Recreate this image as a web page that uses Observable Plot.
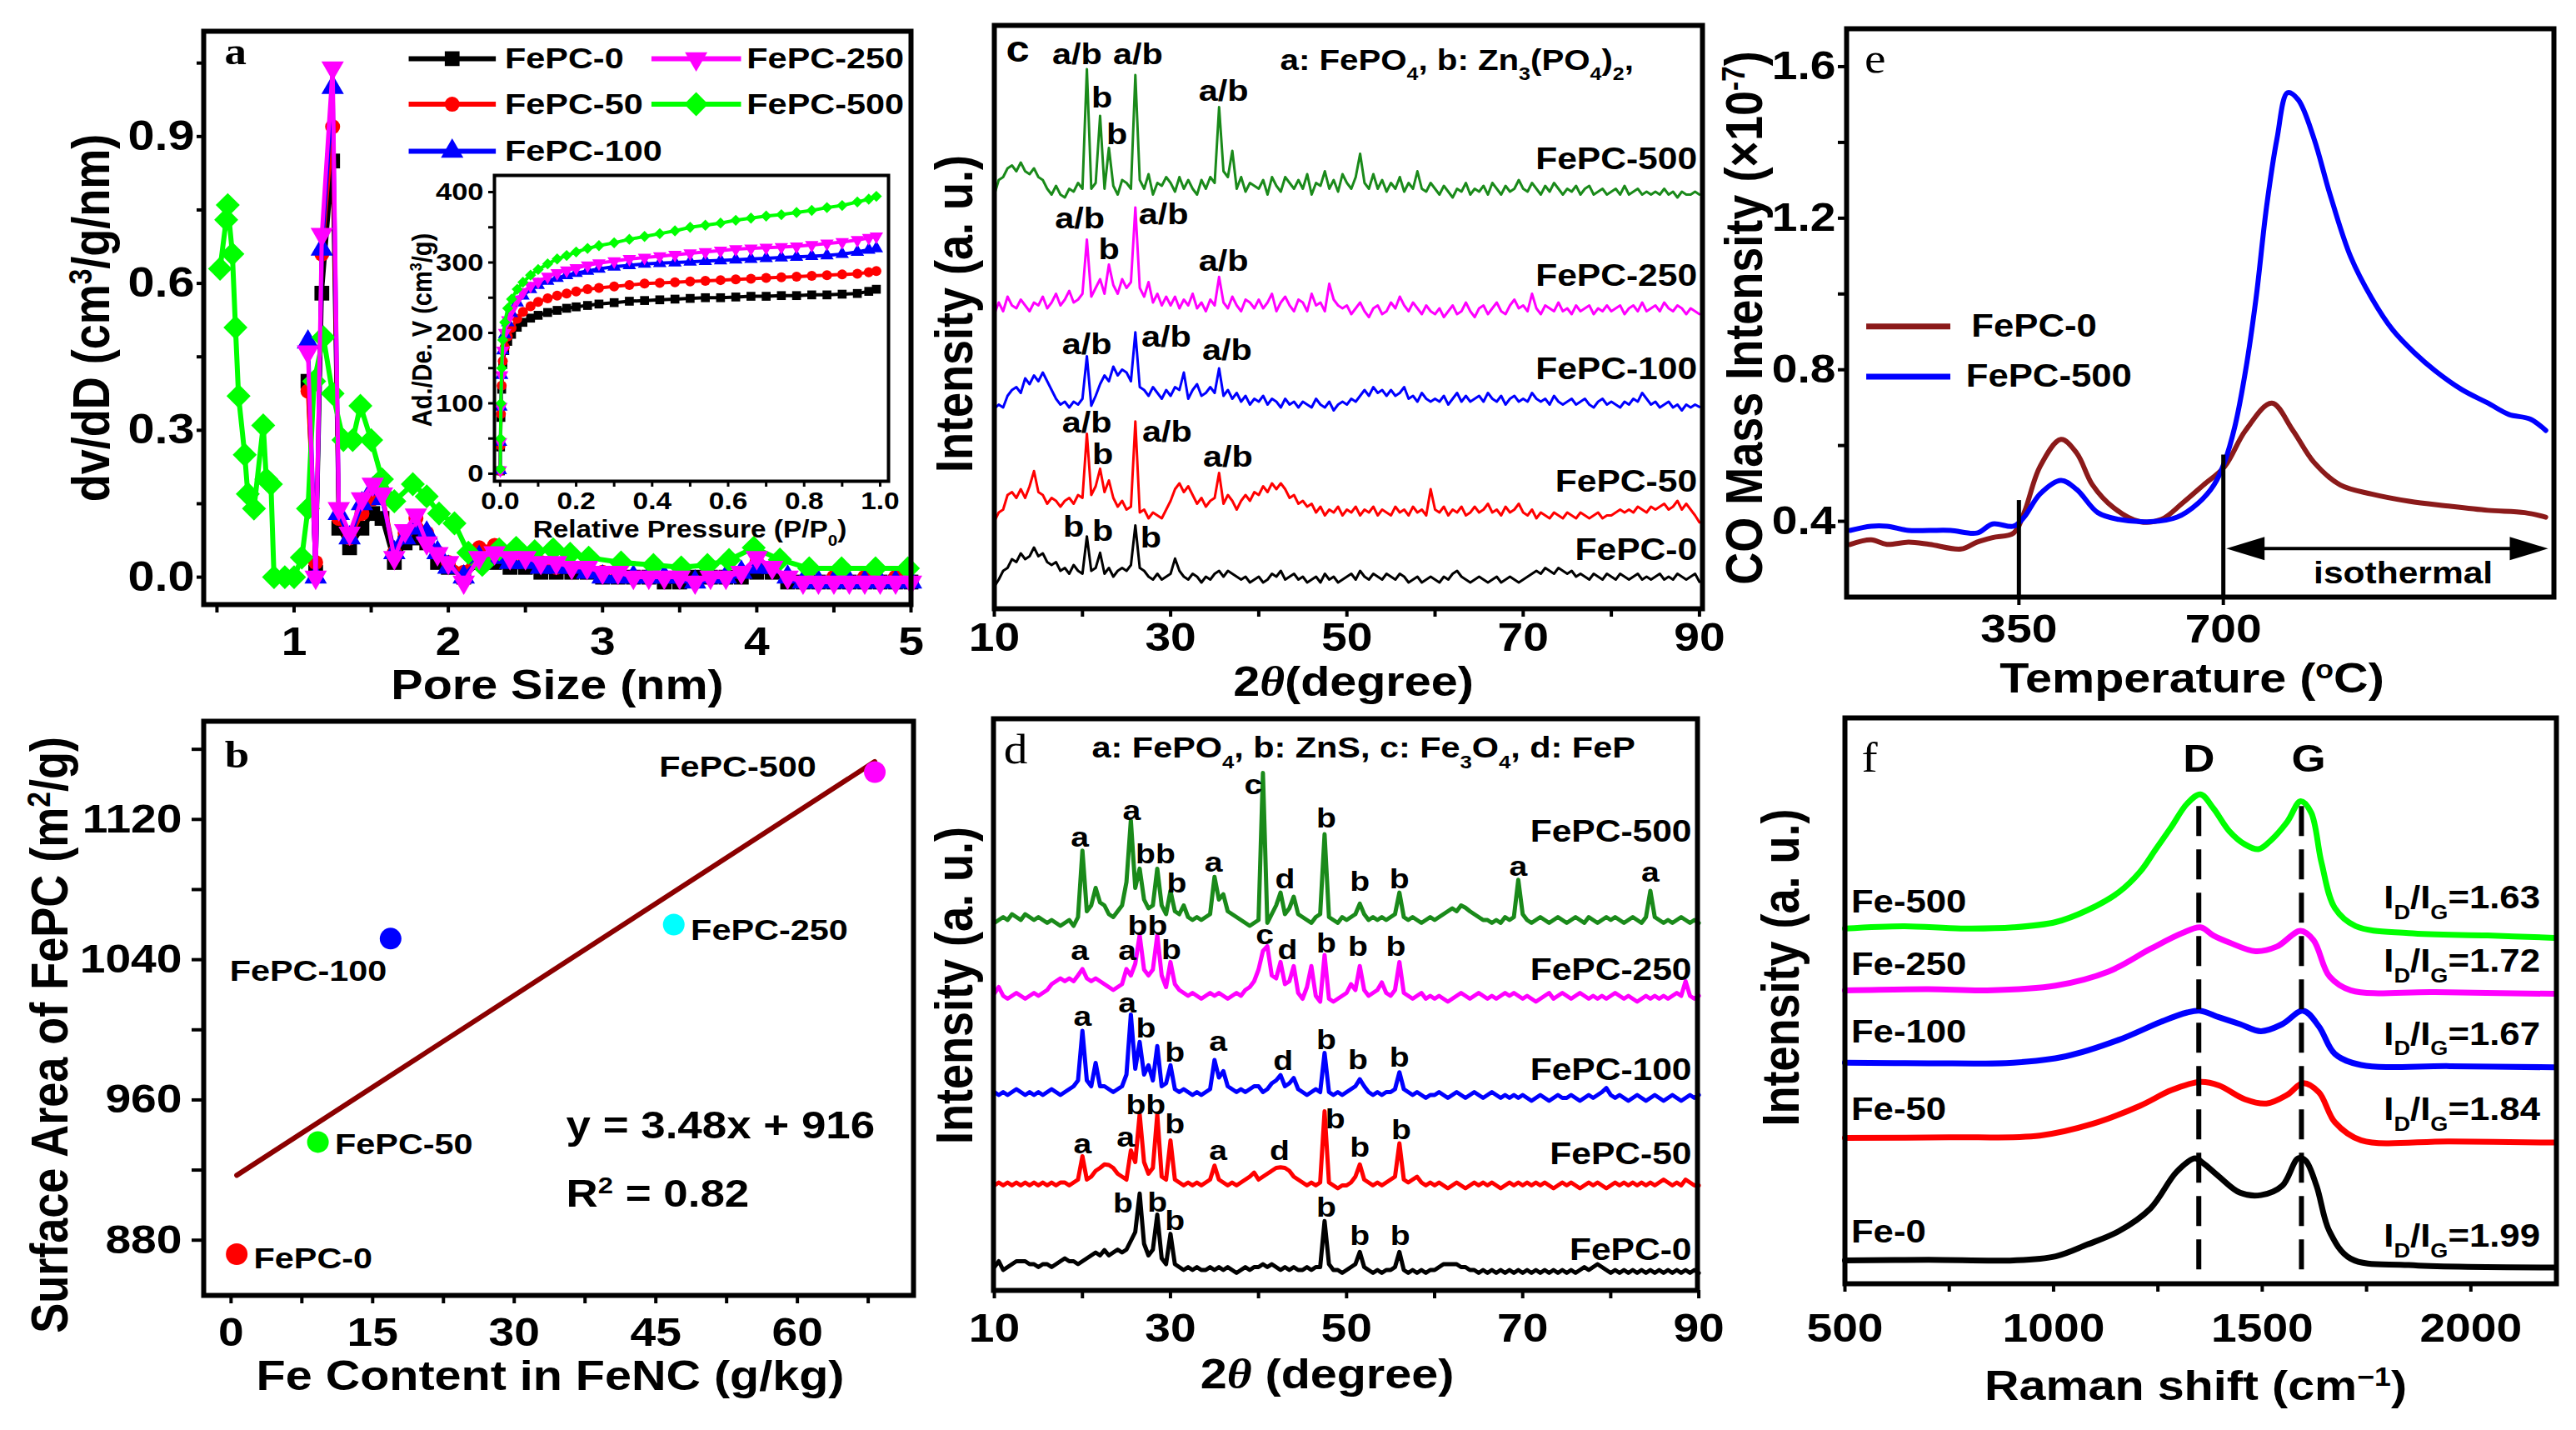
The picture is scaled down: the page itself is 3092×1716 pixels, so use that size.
<!DOCTYPE html>
<html>
<head>
<meta charset="utf-8">
<script src="https://cdn.jsdelivr.net/npm/d3@7"></script>
<script src="https://cdn.jsdelivr.net/npm/@observablehq/plot@0.6"></script>
<style>
  html, body { margin:0; padding:0; background:#fff; }
  #fig { position:relative; width:3092px; height:1716px; background:#fff; overflow:hidden; }
  #fig > svg { position:absolute; overflow:visible; }
</style>
</head>
<body>
<div id="fig"></div>
<script>
// ======================= DATA =======================
// --- Panel a: pore size distribution (dv/dD vs pore size, nm)
const poreX = [1.09,1.14,1.18,1.25,1.29,1.36,1.44,1.51,1.57,1.65,1.72,1.79,1.86,1.93,2.0,2.1,2.2,2.3,2.4,2.5,2.6,2.7,2.8,2.9,3.0,3.1,3.2,3.3,3.4,3.5,3.6,3.7,3.8,3.9,4.0,4.1,4.2,4.3,4.4,4.5,4.6,4.7,4.8,4.9,5.0];
const poreFePC0   = [0.40,0.01,0.58,0.85,0.10,0.06,0.10,0.13,0.12,0.03,0.07,0.08,0.07,0.03,0.02,0.00,0.03,0.03,0.02,0.02,0.01,0.01,0.01,0.01,0.00,0.00,0.00,0.00,-0.01,-0.01,0.00,0.00,0.00,0.00,0.01,0.01,-0.01,-0.01,-0.01,-0.01,-0.01,-0.01,-0.01,-0.01,-0.01];
const poreFePC50  = [0.38,0.03,0.66,0.92,0.12,0.08,0.13,0.16,0.17,0.05,0.09,0.12,0.09,0.05,0.03,0.01,0.06,0.065,0.04,0.04,0.03,0.02,0.02,0.02,0.01,0.01,0,0,0,0,-0.01,0,0,0.01,0.03,0.02,0,-0.01,-0.01,0,-0.01,0,-0.01,0,-0.01];
const poreFePC100 = [0.48,0.00,0.67,1.00,0.13,0.08,0.15,0.18,0.16,0.05,0.08,0.10,0.09,0.05,0.02,0.00,0.04,0.04,0.03,0.03,0.02,0.02,0.02,0.01,0,0,0,0,0,0,-0.01,0,0,0.01,0.02,0.02,0,-0.01,-0.01,-0.01,-0.01,-0.01,-0.01,-0.01,-0.01];
const poreFePC250 = [0.46,0.00,0.70,1.04,0.14,0.09,0.16,0.19,0.17,0.04,0.095,0.127,0.07,0.048,0.03,-0.01,0.04,0.05,0.04,0.04,0.03,0.03,0.02,0.02,0.01,0.01,0,0,0,0,-0.01,0,0,0.01,0.04,0.02,0,-0.01,-0.01,-0.01,-0.01,-0.01,-0.01,-0.01,-0.01];
const poreX500    = [0.52,0.56,0.57,0.60,0.62,0.64,0.68,0.70,0.74,0.80,0.82,0.85,0.87,0.94,1.00,1.05,1.09,1.13,1.19,1.25,1.32,1.38,1.43,1.50,1.57,1.65,1.77,1.86,1.94,2.04,2.13,2.22,2.33,2.44,2.56,2.68,2.79,2.91,3.12,3.33,3.51,3.68,3.82,3.98,4.15,4.34,4.55,4.77,4.98];
const poreFePC500 = [0.63,0.73,0.76,0.66,0.51,0.37,0.25,0.17,0.14,0.31,0.20,0.19,0.00,0.00,0.00,0.04,0.14,0.40,0.49,0.375,0.28,0.28,0.35,0.28,0.20,0.155,0.19,0.165,0.13,0.11,0.05,0.025,0.057,0.06,0.053,0.057,0.048,0.04,0.03,0.025,0.02,0.025,0.035,0.06,0.036,0.018,0.018,0.018,0.018];

// --- Panel a inset: N2 isotherms
const isoP = [0.0005,0.001,0.002,0.004,0.007,0.012,0.02,0.03,0.045,0.06,0.08,0.1,0.125,0.15,0.175,0.2,0.23,0.26,0.3,0.34,0.38,0.42,0.46,0.5,0.54,0.58,0.62,0.66,0.7,0.74,0.78,0.82,0.86,0.9,0.94,0.97,0.99];
const isoFePC500 = [7,50,100,150,190,215,235,248,262,272,282,290,298,305,310,315,320,324,328,333,337,341,345,350,353,356,360,363,366,368,371,374,378,381,386,390,394];
const isoFePC250 = [5,45,95,140,175,200,218,232,247,258,267,273,280,285,289,292,296,299,302,305,307,309,311,313,315,317,319,320,321,322,323,325,327,329,332,335,337];
const isoFePC100 = [5,45,95,140,175,198,215,228,243,253,262,268,274,278,282,285,288,291,294,296,298,299,300,301,302,303,304,305,306,307,308,309,310,312,315,318,320];
const isoFePC50  = [4,40,85,125,160,180,195,207,220,230,238,244,249,253,256,259,262,264,266,268,270,271,272,273,274,275,276,277,278,279,280,281,282,283,284,286,288];
const isoFePC0   = [4,38,80,120,155,175,188,198,208,215,221,225,229,232,235,237,239,241,243,245,246,247,248,249,250,250,251,252,252,253,253,254,254,255,256,259,262];

// --- Panel b: surface area vs Fe content
const bNames = ["FePC-0","FePC-50","FePC-100","FePC-250","FePC-500"];
const bFe    = [0.6, 9.2, 16.9, 46.9, 68.2];
const bArea  = [872, 936, 1052, 1060, 1147];
const bColor = ["#ff0000","#00ff00","#0000ff","#00ffff","#ff00ff"];
const bFitX  = [0.6, 68.2];
const bFitY  = [917, 1153];

// --- Panel c & d: XRD patterns, sampled every 0.5 degree from 10 to 90
const twoTheta = d3.range(10, 90.25, 0.5);
const xrdC500 = [71,73.5,74,75.5,76,75,76.5,75,74.5,75.5, 74,73.5,72,71,72.5,71,70.5,72,71.5,73, 72,92.5,72,73,84.5,72,79,72.5,71,73.5, 73,72,91.5,73.5,72,74.5,71,73,72.5,74, 73,71.5,74,72,73.5,72,71,73.5,72,74, 73,86,75,74,78.5,72,74,71.5,73,72.5, 72,73.5,71,74,72.5,71.5,74,73,72,73.5, 72,74.5,71,73,72.5,75,72,73.5,71.5,74.5, 73,72,74,78,73,72,74.5,72,73.5,71.5, 73,72,74,71.5,73,72,75,72,71.5,73, 72,71,72.5,71.5,70.5,72,71.5,73,71,72, 71.5,72.5,71,73,72,71,72.5,71.5,72,73.5, 72,71.5,73,72,71,72.5,71.5,73,72,71, 72,71.5,72.5,71,72,72.5,71,71.5,72,71, 71.5,72,71,72.5,71,71.5,72,71,71.5,71, 71.5,71,72,71,71.5,70.5,71.5,71,71,71.5, 71];
const xrdC250 = [50.5,52.5,51,53.5,52,51.5,53,52,51,52.5, 52,53.5,51.5,52.5,54,52,53,54.5,52.5,53, 54,63.3,53.5,55,56.5,54,59,55.5,54,56.5, 55,56,68.8,55,53.5,56,52.5,54,52,53.5, 52,53.5,51.5,53,52,54,51.5,52.5,51,53, 52,56.9,52.5,51.5,53.5,52,51,53,52.5,51.5, 53,51.5,52.5,54,51,52.5,53.5,52,51,53, 52.5,51,54,52,52.5,51,55.7,53,52,51.5, 52,50.5,51.5,52.5,51,50,51.5,52,50.5,51, 52.5,51.5,53.5,52,51,52.5,51.5,50.5,52,51, 50.5,51.5,50,51,52,50.5,51,52.5,51,50, 51.5,52,50.5,51.5,52.5,51,50.5,52,53,51.5, 52,51,54,51.5,50.5,52,51.5,51,52.5,51, 51.5,50.5,52,51,51.5,52,50.5,51.5,51,52, 51,51.5,52,50.5,51.5,52,51,52.5,51,51.5, 52,51,52.5,51.5,51,52,51.5,50.5,51.5,51, 50.5];
const xrdC100 = [34.3,35,34.5,36.5,37.5,38,37,39.5,38.5,40, 39,40.5,39,37.5,36,35,35.5,34.5,35.5,35, 36,43.3,34.8,36.5,38.5,40,39,41.5,40,41, 40.5,39,47.4,38,37.5,36.5,38,37,36,37.5, 36.5,38,37.5,40.5,36,37.5,38.5,36.5,37,38, 37,41.2,36.5,37.5,36,37,35.5,36.5,35,36, 35.5,36.5,35,36,35.5,34.5,36,35,35.5,34.5, 35.5,35,34.5,36,35,34.5,35.5,34,35,35.5, 35,36,35.5,36.5,37.5,36.5,38,37,37.5,36.5, 37.5,36.5,37,38,36,36.5,35.5,37,36,35.5, 36,35.5,36.5,35,36,37,35.5,36.5,35.5,36, 36.5,35.5,37,36,35.5,36.5,35,36,36.5,35.5, 36,35.5,37,36,35.5,36,35,36.5,35.5,35, 35.5,36,35,35.5,36,35,34.5,35.5,36,35, 35.5,35,34.5,35.5,35,36,35.5,37,36,35, 35.5,34.5,35,35.5,34.5,35,34,35,34.5,35, 34.6];
const xrdC50 = [15,16.5,17,19.5,20,19,20.5,19,21,23.6, 20,19.5,18,19,18.5,17.5,18.5,19,18,19.5, 19,30,19.5,21,24,20,22,19,17.5,18.5, 17,17.5,32.1,16.5,17,15.5,16.5,16,15.5,17, 18.5,20.5,21.5,20,21,19.5,18,19,17.5,18.5, 19,23.3,18,19.5,18.5,17,18.5,19.5,18.5,20, 19.5,21,20,21.5,20.5,21.5,20.5,19,19.5,18, 18.5,17.5,18,16.5,17.5,16,17,16.5,17.5,16, 17,16.5,17.5,16,17,16.5,17.5,16,17,16.5, 16,17.5,16.5,17,16,17.5,16.5,17,16,20.5, 17,16.5,17.5,16,17,16.5,17.5,16,16.5,17.5, 16.5,17,18,16.5,17,16,17.5,16.5,17,18, 16.5,16,17,15.5,16.5,16,15.5,16.5,16,15.5, 16.5,16,15.5,16.5,16,15.5,16,16.5,15.5,16, 16,16.5,17,16.5,17,16.5,17.5,17,16.5,17.5, 17,17.5,18,17,17.5,18.5,17,18,17,16, 14.8];
const xrdC0 = [3.8,5,6.5,7,8.5,8,9.5,8.5,9,10.5, 9,9.5,8,7.5,8,6.5,7,6,7.5,6.5, 6,12.4,6.5,7,9.6,6,7,5.5,6.5,7, 6.5,7.5,14.3,7,6.5,5.5,5,6,5,5.5, 6,8.6,6.5,5.5,5,6,5.5,4.5,5.5,5, 6,6.5,5.5,6.5,6,5.5,5,5.5,4.5,5, 5.5,4.5,5,6,5.5,6.5,5,5.5,6,5, 5.5,4.5,5,5.5,4.5,6,5,5.5,4.5,5, 5.5,6,5,6.5,5.5,5,6,5.5,5,6, 5.5,5,6,5.5,4.5,5,5.5,4.5,5,5.5, 5,4.5,5.5,5,6,6.5,5.5,5,4.5,5, 5.5,5,4.5,5,5.5,4.5,5,5.5,5,4.5, 5,5.5,6,6.5,6,7,6.5,6,7,6.5, 6,6.5,5.5,6,5.5,5,6,5.5,5,6, 5.5,5,6,5.5,5,5.5,6,5,5.5,5, 5.5,6,5,5.5,5,6,5.5,5,5.5,6, 4.6];

const xrdD500 = [63,63.5,64,63.5,64.5,64,63.5,64.5,64,63.5, 64,63.5,63,63.5,63,62.5,63,63.5,62.5,64, 75.4,65,66,69,66.5,66,64.5,64,65,66, 70,80.6,69,72.3,67,65.5,66,72.3,66,64.5, 68.5,65,64.5,66,64,63.5,64,63.5,64,64.5, 70.9,67,67.9,65,64.5,64,63.5,63,62.5,63, 63.5,88.7,63,64.5,66,68.2,64.5,65.5,67.5,64.5, 64,63.5,63,64,64.5,78.2,64,63.5,63,64, 63.5,64,64.5,66.3,64.5,63.5,64,63.5,64,63.5, 64,64.5,68.2,64,63.5,64,63.5,63,63.5,64, 63.5,64,64.5,65,65.5,65,66,65.6,65,64.5, 64,63.5,63.5,63,63.5,63,64,63.5,64,70.4, 64.5,63.5,63,63.5,64,63.5,63,63.5,64,63.5, 63,63.5,64,63.5,63,64,63.5,63,63.5,64, 63.5,64,63.5,63,63.5,64,63.5,63,64,68.5, 64,63.5,63,63.5,63,63.5,64,63.5,63,63.5, 63];
const xrdD250 = [50.9,52,50.5,50,50.5,51,50.5,50,50.5,51, 50.5,51,51.5,52.5,53,53.5,53,53.5,53,54, 55.1,53.5,53,53.5,53,52.5,52,51.5,52,52.5, 55.1,54,56,60.9,55,54,55,60.9,54,52, 56.3,52.5,51.5,51,50.5,51,50.5,50,50.5,51, 50.5,51,50.5,50,50.5,51,50.5,51.5,52,53, 55,58.2,59,54,53.5,56.3,52.5,53,55.6,51, 50,52,55.6,50.5,49.5,57.5,50,49.5,50,50.5, 51,52.5,51.5,55.6,51.5,50.5,51,51.5,52.8,51, 50.5,51.5,56.3,51,50.5,50,50.5,51,50,50.5, 50,50.5,50,49.5,50,50.5,51,50.5,50,50.5, 51,50.5,50,50.5,50,50.5,51,50.5,51,50.5, 50,50.5,50,49.5,50,50.5,51,50,50.5,51, 50.5,50,50.5,51,50.5,50,50.5,50,50.5,50, 50.5,51,50.5,50,50.5,50,49.5,50,50.5,50, 50.5,50,50.5,50,50.5,51,50.5,53,50.5,50, 50.5];
const xrdD100 = [34,33.5,34,33.5,34,34.5,34,33.5,34,33.5, 34,33.5,34,34.5,34,33.5,34,34.5,35,36, 44.5,36,35,39,35,35,34.5,34,34.5,35, 37,47.3,38,42.6,37,38.6,36,41.9,35,35.5, 38.6,34.5,34,34.5,34,33.5,34,33.5,34,34.5, 39.5,36.5,37.6,35,34.5,34,34.5,34,34.5,35, 35,34,34.5,35.5,36,36.9,35,35.5,36.4,34.5, 34,33.5,34,34.5,34,40.7,34,33.5,34,33.5, 34,34.5,35,36.2,35,34,33.5,34,33.5,34, 34,34.5,37.4,34.5,34,33.5,34,33.5,33,33.5, 33.5,34,33.5,33,33.5,34,33.5,33,33.5,34, 33.5,33,33.5,34,33.5,33,33.5,33,33.5,33, 33.5,33,32.5,33,33.5,33,32.5,33,33.5,33, 33,33.5,33,32.5,33,33.5,33,33.5,34,34.7, 33.5,33,33.5,33,32.5,33,33.5,33,32.5,33, 33.5,33,32.5,33,33.5,33,32.5,33,33.5,33, 33.5];
const xrdD50 = [18,18.5,18,18.5,18,18.5,18,18.5,18,18.5, 18,18.5,18,18.5,18,18.5,18.5,18,18.5,19, 23,19,19.5,20.5,21,21.6,21.5,21,20,19.5, 19,24,22,30.2,22,20,21,30.2,19.5,19, 25.7,19,18.5,18,18.5,18,18.5,18,18.5,19, 21.4,19,18.5,18,18.5,18,18.5,19,19.5,20.2, 19,19.5,20,20.5,21,21.1,21,20.5,19.5,19, 18.5,18,18.5,18,18.5,30.7,18.5,18,17.5,18, 18,18.5,19.5,21.6,19,18.5,18,18.5,18,18.5, 19,19.5,25.2,19,18.5,19,19.5,18.5,18,18.5, 18,18.5,18,17.5,18,18.5,18,17.5,18,18.5, 18,18.5,18,18.5,18,17.5,18,18.5,18,18.5, 18,18.5,18,18.5,18,18.5,18,17.5,18,18.5, 18,18.5,18,17.5,18,18.5,18,18.5,18,17.5, 18,18.5,18,18.5,18,18.5,18,18.5,18,18.5, 18,18.5,19,18.5,18,18.5,18,19,18.5,18, 18];
const xrdD0 = [4,5,3.5,4,4.5,5,5,5,4.5,4.5, 4,4.5,4.5,4,4.5,5,5.5,5,5,4.5, 5,5.5,6,6.5,6,6.9,6,6.5,7,6.5, 7,8.5,10,16.6,8,6,7,13,5.5,4.5, 9.7,4.5,4,3.5,4,3.5,4,3.5,3.5,4, 3.5,4,3.5,4,3.5,3,3.5,4,3.5,4, 4,4.5,4,4.5,4,3.5,4,3.5,4,3.5, 3.5,4,3.5,4,4,11.9,4.5,3.5,3.5,3, 3.5,4,4.5,6.6,4,3.5,3,3.5,3,3.5, 3.5,4,6.6,3.5,3,3.5,3,3.5,3,3.5, 3.5,4,4.5,4.5,4.5,4.5,4,4,3.5,3.5, 3,3.5,3,3.5,3,3.5,3,3.5,3,3.5, 3,3.5,3,3.5,3,3.5,3,3.5,3,3.5, 3,3.5,3,3.5,4,3.5,4,4.5,4,3.5, 3,3.5,3,3.5,3,3.5,3,3.5,3,3.5, 3,3.5,3,3.5,3,3.5,3,3.5,3,3.5, 3];

// peak labels: [text, 2theta, intensity]
const peaksC = [["a/b",19.4,93.3],["a/b",26.3,93.3],["b",22.2,86.0],["b",23.9,79.6],["a/b",36.0,87.1],
  ["a/b",19.7,65.2],["a/b",29.2,66.0],["b",23.0,60.0],["a/b",36.0,57.9],
  ["a/b",20.5,43.6],["a/b",29.5,45.0],["a/b",36.4,42.6],
  ["a/b",20.5,30.2],["b",22.3,24.8],["a/b",29.6,28.6],["a/b",36.5,24.3],
  ["b",19.0,12.4],["b",22.3,11.7],["b",27.75,10.5]];
const peaksD = [["a",19.7,76.1],["a",25.6,80.6],["bb",28.3,73.2],["b",30.7,68.2],["a",34.9,71.8],["c",39.4,85.1],["d",43.0,69.0],["b",47.7,79.4],["b",51.5,68.5],["b",56.0,69.0],["a",69.5,71.1],["a",84.5,70.1],
  ["a",19.7,56.6],["a",25.1,56.6],["bb",27.4,60.9],["b",30.1,56.8],["c",40.7,59.4],["d",43.3,56.8],["b",47.7,58.0],["b",51.3,57.3],["b",55.6,57.3],
  ["a",20.0,45.4],["a",25.1,47.6],["b",27.2,43.3],["b",30.5,39.2],["a",35.4,41.1],["d",42.8,37.8],["b",47.7,41.4],["b",51.3,38.0],["b",56.0,38.3],
  ["a",20.0,23.5],["a",24.9,24.7],["bb",27.2,30.2],["b",30.5,26.9],["a",35.4,22.3],["d",42.4,22.3],["b",48.7,27.8],["b",51.5,23.0],["b",56.2,25.9],
  ["b",24.6,13.3],["b",28.5,13.5],["b",30.5,10.4],["b",47.7,12.6],["b",51.5,7.8],["b",56.1,7.8]];
const sampleNames = ["FePC-500","FePC-250","FePC-100","FePC-50","FePC-0"];
const nameYC = [75.3, 55.3, 39.3, 20.1, 8.3];
const nameYD = [77.0, 53.2, 36.1, 21.6, 5.2];

// --- Panel e: CO mass signal vs temperature
const tpdT500 = [61,97,124,161,197,233,278,305,341,359,386,422,449,485,521,576,621,657,684,702,720,738,756,774,792,810,828,855,882,918,954,990,1027,1063,1108,1153,1189,1225,1252];
const tpdFePC500 = [0.376,0.387,0.387,0.376,0.376,0.376,0.369,0.393,0.387,0.411,0.472,0.508,0.484,0.423,0.405,0.399,0.411,0.448,0.496,0.556,0.652,0.797,0.989,1.23,1.411,1.531,1.513,1.411,1.266,1.098,0.989,0.905,0.845,0.797,0.748,0.712,0.682,0.670,0.640];
const tpdT0 = [61,97,124,161,197,251,278,305,341,359,386,422,449,476,512,557,594,630,666,702,738,783,819,855,900,954,1018,1081,1153,1216,1252];
const tpdFePC0 = [0.339,0.351,0.339,0.345,0.339,0.327,0.345,0.357,0.369,0.423,0.544,0.616,0.580,0.496,0.436,0.399,0.405,0.448,0.496,0.544,0.640,0.712,0.640,0.556,0.496,0.472,0.453,0.441,0.429,0.423,0.411];
const tpdMarkers = [350, 700];
const tpdMarkerTop = [0.455, 0.575];

// --- Panel f: Raman spectra
const ramX500 = [500,640,778,904,1005,1080,1156,1207,1245,1283,1320,1352,1383,1421,1459,1491,1522,1560,1592,1617,1642,1674,1724,1851,2040,2200];
const ramFe500 = [60.9,61.3,60.9,61.1,62.0,64.0,67.1,70.6,74.5,78.4,82.3,83.9,81.5,77.6,75.3,74.5,76.1,79.2,82.7,80.8,72.2,64.4,61.3,60.1,59.7,59.3];
const ramX250 = [500,700,841,1005,1131,1232,1308,1352,1383,1421,1484,1535,1592,1623,1661,1712,1914,2200];
const ramFe250 = [50.3,50.5,50.3,51.1,53.5,57.4,60.1,61.1,59.7,58.5,57.0,57.8,60.5,58.9,52.7,50.3,50.0,49.7];
const ramX100 = [500,700,904,1030,1156,1257,1320,1352,1396,1447,1497,1548,1598,1636,1674,1737,1950,2200];
const ramFe100 = [37.9,37.8,37.9,39.0,41.8,44.9,46.5,46.8,45.7,44.5,43.3,44.5,46.8,44.1,39.4,37.5,37.3,37.1];
const ramX50 = [500,750,967,1093,1207,1283,1352,1396,1459,1510,1560,1598,1636,1674,1737,1950,2200];
const ramFe50 = [25.0,25.1,25.4,27.4,30.5,33.2,34.6,34.0,31.6,30.9,32.4,34.4,32.8,27.7,24.6,24.4,24.2];
const ramX0 = [500,700,904,1005,1080,1156,1232,1295,1339,1358,1396,1447,1497,1548,1586,1604,1630,1661,1712,1851,2200];
const ramFe0 = [4.0,4.1,4.0,4.7,6.7,9.0,12.9,19.2,21.5,20.7,18.4,15.6,15.2,16.8,21.5,21.1,16.8,9.0,4.3,3.2,2.8];
const ramanBands = [1348, 1594];
const ramanNames = ["Fe-500","Fe-250","Fe-100","Fe-50","Fe-0"];
const ramanNameY = [63.6, 52.9, 41.4, 28.1, 7.1];
const ramanRatio = ["1.63","1.72","1.67","1.84","1.99"];
const ramanRatioY = [64.4, 53.5, 41.0, 28.1, 6.3];

// ======================= HELPERS =======================
const FONT = "'Liberation Sans', Arial, Helvetica, sans-serif";
const SERIF = "'Liberation Serif', 'Times New Roman', serif";
const STRETCH = 1.15;
const fig = document.getElementById("fig");
const rng = n => Array.from({length: n}, (_, i) => i);
const isIn = (arr, d) => arr.some(v => Math.abs(v - d) < 1e-6);

const triangleDown = { draw(ctx, size) { const y = -Math.sqrt(size / (Math.sqrt(3) * 3)); ctx.moveTo(0, -y * 2); ctx.lineTo(-Math.sqrt(3) * y, y); ctx.lineTo(Math.sqrt(3) * y, y); ctx.closePath(); } };
const headLeft  = { draw(ctx) { ctx.moveTo(0, 0); ctx.lineTo(46, -14); ctx.lineTo(46, 14); ctx.closePath(); } };
const headRight = { draw(ctx) { ctx.moveTo(0, 0); ctx.lineTo(-46, -14); ctx.lineTo(-46, 14); ctx.closePath(); } };

function richify(svg) {
  svg.querySelectorAll("text").forEach(t => {
    const nodes = t.querySelectorAll("tspan").length ? [...t.querySelectorAll("tspan")] : [t];
    nodes.forEach(n => {
      const s = n.textContent;
      if (!/[\^_*]\{/.test(s)) return;
      n.textContent = "";
      const re = /([\^_*])\{([^}]*)\}/g;
      let last = 0, m;
      while ((m = re.exec(s))) {
        if (m.index > last) n.appendChild(document.createTextNode(s.slice(last, m.index)));
        const ts = document.createElementNS("http://www.w3.org/2000/svg", "tspan");
        ts.textContent = m[2];
        if (m[1] === "^") { ts.setAttribute("baseline-shift", "super"); ts.setAttribute("font-size", "62%"); }
        else if (m[1] === "_") { ts.setAttribute("baseline-shift", "sub"); ts.setAttribute("font-size", "62%"); }
        else { ts.setAttribute("font-style", "italic"); ts.setAttribute("font-family", SERIF); }
        n.appendChild(ts);
        last = re.lastIndex;
      }
      if (last < s.length) n.appendChild(document.createTextNode(s.slice(last)));
    });
  });
}
function stretch(svg) {
  svg.querySelectorAll("text").forEach(t => {
    const tr = t.getAttribute("transform");
    if (!tr || !tr.startsWith("translate")) return;
    const i = tr.indexOf("rotate");
    const s = ` scale(${STRETCH},1) `;
    t.setAttribute("transform", i >= 0 ? tr.slice(0, i) + s + tr.slice(i) : tr + s);
  });
}
function build({frame, margin, x, y, marks}) {
  const [L, T, R, B] = frame;
  const [mt, mr, mb, ml] = margin;
  const svg = Plot.plot({
    width: R - L + ml + mr, height: B - T + mt + mb,
    marginTop: mt, marginRight: mr, marginBottom: mb, marginLeft: ml,
    x: {...x, label: null}, y: {...y, label: null},
    color: {type: "identity"},
    style: {background: "transparent", fontFamily: FONT, fontWeight: "bold", fontSize: "48px", color: "#000", overflow: "visible"},
    marks
  });
  svg.style.left = (L - ml) + "px";
  svg.style.top = (T - mt) + "px";
  richify(svg);
  stretch(svg);
  fig.appendChild(svg);
  return svg;
}
function axX(ticks, labeled, fmt, {ts = 10, tp = 15, fs = 48, sw = 4} = {}) {
  return Plot.axisX(ticks, {anchor: "bottom", label: null, tickSize: ts, tickPadding: tp, fontSize: fs, strokeWidth: sw, tickFormat: d => isIn(labeled, d) ? fmt(d) : ""});
}
function axY(ticks, labeled, fmt, {ts = 10, tp = 4, fs = 48, sw = 4} = {}) {
  return Plot.axisY(ticks, {anchor: "left", label: null, tickSize: ts, tickPadding: tp, fontSize: fs, strokeWidth: sw, tickFormat: d => isIn(labeled, d) ? fmt(d) : ""});
}
const line = (X, Y, o) => Plot.line(rng(X.length), {x: i => X[i], y: i => Y[i], ...o});
const dots = (X, Y, o) => Plot.dot(rng(X.length), {x: i => X[i], y: i => Y[i], ...o});
const note = (text, o) => Plot.text([text], {text: d => d, ...o});
const xTitle = (text, dx, dy, fs = 50) => note(text, {frameAnchor: "bottom", textAnchor: "middle", lineAnchor: "bottom", dx, dy, fontSize: fs});
const yTitle = (text, dx, dy, fs = 54) => note(text, {frameAnchor: "left", textAnchor: "middle", lineAnchor: "middle", rotate: -90, dx, dy, fontSize: fs});
const letter = (t, x, y, o = {}) => Plot.text([t], {x: () => x, y: () => y, text: d => d, lineAnchor: "bottom", fontFamily: SERIF, fontSize: 48, fontWeight: "normal", ...o});

// ======================= PANEL a =======================
const aSeries = [
  {Y: poreFePC0, c: "#000000", sym: "square", r: 10, name: "FePC-0"},
  {Y: poreFePC50, c: "#ff0000", sym: "circle", r: 9, name: "FePC-50"},
  {Y: poreFePC100, c: "#0000ff", sym: "triangle", r: 10, name: "FePC-100"}
];
const aLegend = [
  {name: "FePC-0", x1: 1.743, x2: 2.308, xm: 2.025, xt: 2.367, y: 1.059, c: "#000000", sym: "square", r: 10},
  {name: "FePC-50", x1: 1.743, x2: 2.308, xm: 2.025, xt: 2.367, y: 0.966, c: "#ff0000", sym: "circle", r: 9},
  {name: "FePC-100", x1: 1.743, x2: 2.308, xm: 2.025, xt: 2.367, y: 0.870, c: "#0000ff", sym: "triangle", r: 10},
  {name: "FePC-250", x1: 3.317, x2: 3.898, xm: 3.607, xt: 3.935, y: 1.059, c: "#ff00ff", sym: triangleDown, r: 10},
  {name: "FePC-500", x1: 3.317, x2: 3.898, xm: 3.607, xt: 3.935, y: 0.966, c: "#00ff00", sym: "diamond2", r: 13}
];
build({
  frame: [244, 37, 1093, 725], margin: [37, 30, 125, 244],
  x: {domain: [0.414, 5.0]}, y: {domain: [-0.056, 1.115]},
  marks: [
    ...aSeries.flatMap(s => [line(poreX, s.Y, {stroke: s.c, strokeWidth: 5}), dots(poreX, s.Y, {symbol: s.sym, r: s.r, fill: s.c, stroke: "none"})]),
    line(poreX500, poreFePC500, {stroke: "#00ff00", strokeWidth: 6}),
    dots(poreX500, poreFePC500, {symbol: "diamond2", r: 13, fill: "#00ff00", stroke: "none"}),
    line(poreX, poreFePC250, {stroke: "#ff00ff", strokeWidth: 5}),
    dots(poreX, poreFePC250, {symbol: triangleDown, r: 10, fill: "#ff00ff", stroke: "none"}),
    Plot.link(aLegend, {x1: "x1", x2: "x2", y1: "y", y2: "y", stroke: "c", strokeWidth: 6}),
    ...aLegend.map(d => Plot.dot([d], {x: "xm", y: "y", symbol: d.sym, r: d.r, fill: d.c, stroke: "none"})),
    Plot.text(aLegend, {x: "xt", y: "y", text: "name", textAnchor: "start", fontSize: 36}),
    letter("a", 0.62, 1.047, {fontWeight: "bold", fontSize: 46}),
    axX([0.5,1,1.5,2,2.5,3,3.5,4,4.5,5], [1,2,3,4,5], d3.format("d"), {ts: 10, tp: 16}),
    axY([0,0.15,0.3,0.45,0.6,0.75,0.9,1.05], [0,0.3,0.6,0.9], d3.format(".1f"), {ts: 8, tp: 3, fs: 50}),
    xTitle("Pore Size (nm)", 0, 113),
    yTitle("dv/dD (cm^{3}/g/nm)", -133, 0),
    Plot.frame({strokeWidth: 6})
  ]
});

// ---- inset
const isoSeries = [
  {Y: isoFePC0, c: "#000000", sym: "square"},
  {Y: isoFePC50, c: "#ff0000", sym: "circle"},
  {Y: isoFePC100, c: "#0000ff", sym: "triangle"},
  {Y: isoFePC250, c: "#ff00ff", sym: triangleDown},
  {Y: isoFePC500, c: "#00ff00", sym: "diamond2"}
];
build({
  frame: [593, 210, 1066, 577], margin: [10, 20, 80, 110],
  x: {domain: [-0.015, 1.022]}, y: {domain: [-10.7, 423.7]},
  marks: [
    ...isoSeries.flatMap(s => [line(isoP, s.Y, {stroke: s.c, strokeWidth: 4}), dots(isoP, s.Y, {symbol: s.sym, r: 6, fill: s.c, stroke: "none"})]),
    axX([0,0.1,0.2,0.3,0.4,0.5,0.6,0.7,0.8,0.9,1.0], [0,0.2,0.4,0.6,0.8,1.0], d3.format(".1f"), {ts: 7, tp: 6, fs: 29, sw: 3}),
    axY([0,50,100,150,200,250,300,350,400], [0,100,200,300,400], d3.format("d"), {ts: 7, tp: 6, fs: 30, sw: 3}),
    xTitle("Relative Pressure (P/P_{0})", -2, 67, 29),
    yTitle("Ad./De. V (cm^{3}/g)", -86, 2, 29),
    Plot.frame({strokeWidth: 4})
  ]
});

// ======================= PANEL b =======================
const bPts = bNames.map((n, i) => ({n, x: bFe[i], y: bArea[i], c: bColor[i]}));
const bLabStart = [{t: "FePC-250", x: 48.7, y: 1051.4}, {t: "FePC-50", x: 11.0, y: 929.3}, {t: "FePC-0", x: 2.4, y: 863.9}];
const bLabEnd = [{t: "FePC-500", x: 62.0, y: 1144.6}, {t: "FePC-100", x: 16.5, y: 1027.7}];
build({
  frame: [244, 865, 1096, 1554], margin: [20, 30, 150, 244],
  x: {domain: [-2.9, 72.3]}, y: {domain: [848.5, 1176]},
  marks: [
    line(bFitX, bFitY, {stroke: "#8b0000", strokeWidth: 6}),
    Plot.dot(bPts, {x: "x", y: "y", r: 13, fill: "c", stroke: "none"}),
    Plot.text(bLabStart, {x: "x", y: "y", text: "t", textAnchor: "start", lineAnchor: "bottom", fontSize: 36}),
    Plot.text(bLabEnd, {x: "x", y: "y", text: "t", textAnchor: "end", lineAnchor: "bottom", fontSize: 36}),
    Plot.text([{t: "y = 3.48x + 916", y: 938.3}, {t: "R^{2} = 0.82", y: 899.3}], {x: () => 35.5, y: "y", text: "t", textAnchor: "start", lineAnchor: "bottom", fontSize: 46}),
    letter("b", 0.62, 1149.8, {fontWeight: "bold", fontSize: 46}),
    axX([0,7.5,15,22.5,30,37.5,45,52.5,60,67.5], [0,15,30,45,60], d3.format("d"), {ts: 10, tp: 16}),
    axY([880,920,960,1000,1040,1080,1120,1160], [880,960,1040,1120], d3.format("d"), {ts: 14, tp: 12}),
    xTitle("Fe Content in FeNC (g/kg)", -10, 113),
    yTitle("Surface Area of FePC (m^{2}/g)", -183, 32),
    Plot.frame({strokeWidth: 6})
  ]
});

// ======================= PANEL c =======================
const cSeries = [
  {Y: xrdC0, c: "#000000"}, {Y: xrdC50, c: "#ff0000"}, {Y: xrdC100, c: "#0000ff"},
  {Y: xrdC250, c: "#ff00ff"}, {Y: xrdC500, c: "#1a8a1a"}
];
build({
  frame: [1193, 30, 2043, 730], margin: [30, 20, 125, 150],
  x: {domain: [10, 90.34]}, y: {domain: [0, 100], axis: null},
  marks: [
    ...cSeries.map(s => line(twoTheta, s.Y, {stroke: s.c, strokeWidth: 3})),
    Plot.text(peaksC, {x: d => d[1], y: d => d[2], text: d => d[0], lineAnchor: "bottom", fontSize: 36}),
    Plot.text(sampleNames, {x: () => 89.73, y: (d, i) => nameYC[i], text: d => d, textAnchor: "end", lineAnchor: "bottom", fontSize: 37}),
    Plot.text(["a: FePO_{4}, b: Zn_{3}(PO_{4})_{2},"], {x: () => 42.42, y: () => 92.4, text: d => d, textAnchor: "start", lineAnchor: "bottom", fontSize: 35}),
    letter("c", 12.65, 93.8, {fontFamily: FONT, fontWeight: "bold", fontSize: 44}),
    axX([10,20,30,40,50,60,70,80,90], [10,30,50,70,90], d3.format("d"), {ts: 10, tp: 6}),
    xTitle("2*{θ}(degree)", 6, 104),
    yTitle("Intensity (a. u.)", -46, -4),
    Plot.frame({strokeWidth: 6})
  ]
});

// ======================= PANEL d =======================
const dSeries = [
  {Y: xrdD0, c: "#000000"}, {Y: xrdD50, c: "#ff0000"}, {Y: xrdD100, c: "#0000ff"},
  {Y: xrdD250, c: "#ff00ff"}, {Y: xrdD500, c: "#1a8a1a"}
];
build({
  frame: [1192, 862, 2037, 1548], margin: [20, 20, 150, 150],
  x: {domain: [9.9, 89.85]}, y: {domain: [0, 98], axis: null},
  marks: [
    ...dSeries.map(s => line(twoTheta, s.Y, {stroke: s.c, strokeWidth: 5})),
    Plot.text(peaksD, {x: d => d[1], y: d => d[2], text: d => d[0], lineAnchor: "bottom", fontSize: 34}),
    Plot.text(sampleNames, {x: () => 89.19, y: (d, i) => nameYD[i], text: d => d, textAnchor: "end", lineAnchor: "bottom", fontSize: 37}),
    Plot.text(["a: FePO_{4}, b: ZnS, c: Fe_{3}O_{4}, d: FeP"], {x: () => 21.07, y: () => 91.3, text: d => d, textAnchor: "start", lineAnchor: "bottom", fontSize: 36}),
    letter("d", 12.41, 90.4, {fontSize: 50}),
    axX([10,20,30,40,50,60,70,80,90], [10,30,50,70,90], d3.format("d"), {ts: 10, tp: 17}),
    xTitle("2*{θ} (degree)", -22, 117),
    yTitle("Intensity (a. u.)", -45, -23),
    Plot.frame({strokeWidth: 6})
  ]
});

// ======================= PANEL e =======================
const eLegend = [
  {name: "FePC-0", x1: 88.6, x2: 232.6, xt: 268.7, y: 0.914, c: "#8b1a1a"},
  {name: "FePC-500", x1: 88.6, x2: 232.6, xt: 259.3, y: 0.782, c: "#0000ff"}
];
build({
  frame: [2216, 34, 3065, 716], margin: [34, 27, 125, 150],
  x: {domain: [55, 1266]}, y: {domain: [0.2, 1.7]},
  marks: [
    line(tpdT0, tpdFePC0, {stroke: "#8b1a1a", strokeWidth: 6, curve: "catmull-rom"}),
    line(tpdT500, tpdFePC500, {stroke: "#0000ff", strokeWidth: 6, curve: "catmull-rom"}),
    Plot.ruleX(rng(2), {x: i => tpdMarkers[i], y1: () => 0.2, y2: i => tpdMarkerTop[i], stroke: "#000", strokeWidth: 5}),
    Plot.ruleY([0.328], {x1: 730, x2: 1230, stroke: "#000", strokeWidth: 4}),
    Plot.dot([{x: 705, y: 0.328}], {x: "x", y: "y", symbol: headLeft, fill: "#000", stroke: "none"}),
    Plot.dot([{x: 1256, y: 0.328}], {x: "x", y: "y", symbol: headRight, fill: "#000", stroke: "none"}),
    Plot.text(["isothermal"], {x: () => 1008, y: () => 0.237, text: d => d, lineAnchor: "bottom", fontSize: 37}),
    Plot.link(eLegend, {x1: "x1", x2: "x2", y1: "y", y2: "y", stroke: "c", strokeWidth: 7}),
    Plot.text(eLegend, {x: "xt", y: "y", text: "name", textAnchor: "start", fontSize: 38}),
    letter("e", 103.9, 1.585, {fontSize: 50}),
    axX([350, 700], [350, 700], d3.format("d"), {ts: 10, tp: 10}),
    axY([0.4,0.6,0.8,1.0,1.2,1.4,1.6], [0.4,0.8,1.2,1.6], d3.format(".1f"), {ts: 10, tp: 3}),
    xTitle("Temperature (^{o}C)", -10, 114),
    yTitle("CO Mass Intensity (×10^{-7})", -121, 6),
    Plot.frame({strokeWidth: 6})
  ]
});

// ======================= PANEL f =======================
const fSeries = [
  {X: ramX0, Y: ramFe0, c: "#000000"}, {X: ramX50, Y: ramFe50, c: "#ff0000"},
  {X: ramX100, Y: ramFe100, c: "#0000ff"}, {X: ramX250, Y: ramFe250, c: "#ff00ff"},
  {X: ramX500, Y: ramFe500, c: "#00ff00"}
];
build({
  frame: [2214, 861, 3068, 1540], margin: [20, 24, 150, 150],
  x: {domain: [500, 2205]}, y: {domain: [0, 97], axis: null},
  marks: [
    ...fSeries.map(s => line(s.X, s.Y, {stroke: s.c, strokeWidth: 7, curve: "catmull-rom"})),
    Plot.ruleX(ramanBands, {y1: () => 2.4, y2: () => 82.3, stroke: "#000", strokeWidth: 6, strokeDasharray: "36,16"}),
    Plot.text(["D", "G"], {x: (d, i) => [1348, 1611][i], y: () => 87.8, text: d => d, lineAnchor: "bottom", fontSize: 46}),
    Plot.text(ramanNames, {x: () => 514.8, y: (d, i) => ramanNameY[i], text: d => d, textAnchor: "start", lineAnchor: "bottom", fontSize: 38}),
    Plot.text(ramanRatio, {x: () => 2166, y: (d, i) => ramanRatioY[i], text: d => "I_{D}/I_{G}=" + d, textAnchor: "end", lineAnchor: "bottom", fontSize: 38}),
    letter("f", 559, 87.8, {fontSize: 50}),
    axX([500,750,1000,1250,1500,1750,2000], [500,1000,1500,2000], d3.format("d"), {ts: 10, tp: 25}),
    xTitle("Raman shift (cm^{−1})", -6, 139),
    yTitle("Intensity (a. u.)", -75, -40),
    Plot.frame({strokeWidth: 6})
  ]
});
</script>
</body>
</html>
